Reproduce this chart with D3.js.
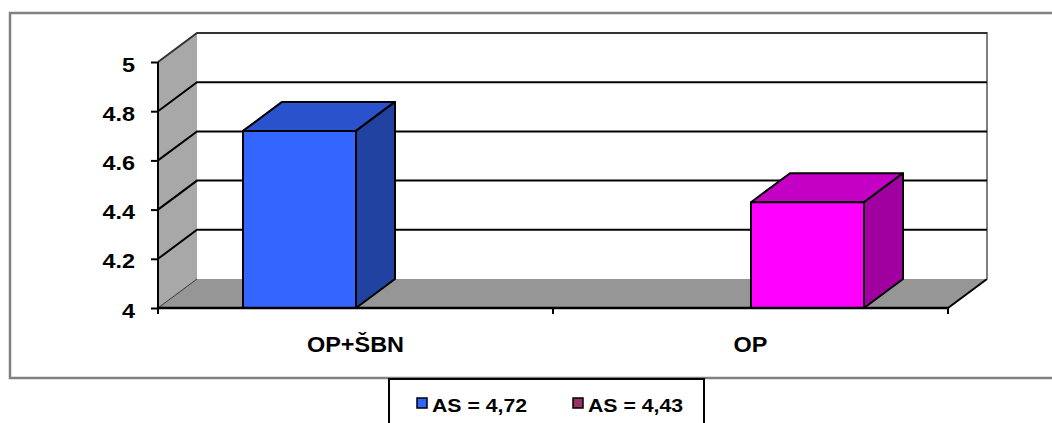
<!DOCTYPE html>
<html><head><meta charset="utf-8">
<script src="https://cdn.jsdelivr.net/npm/d3@7"></script>
<style>html,body{margin:0;padding:0;background:#fff}svg{display:block}text{font-family:"Liberation Sans",Arial,sans-serif;font-weight:bold;fill:#000}</style>
</head><body><svg id="c" width="1052" height="423"></svg>
<script>
const categories = ["OP+ŠBN", "OP"];
const seriesNames = ["AS = 4,72", "AS = 4,43"];
const seriesA = [4.72, null];
const seriesB = [null, 4.43];
const yTicks = [4, 4.2, 4.4, 4.6, 4.8, 5];
const yTickLabels = ["4", "4.2", "4.4", "4.6", "4.8", "5"];
const frontColors = ["#3366ff", "#ff00ff"];
const topColors = ["#2952cc", "#c400c4"];
const sideColors = ["#2142a0", "#a000a0"];
const legendColors = ["#3366ff", "#993366"];

const svg = d3.select("#c");
const DX = 39, DY = -29;
const x0 = d3.scaleBand().domain(categories).range([158, 948]);
const x1 = d3.scaleBand().domain(seriesNames).range([85, 311]);
const y = d3.scaleLinear().domain([4, 5]).range([308, 62]);
const series = [seriesA, seriesB];

// outer frame
svg.append("rect").attr("x", 10).attr("y", 13).attr("width", 1060).attr("height", 365)
  .attr("fill", "#fff").attr("stroke", "#808080").attr("stroke-width", 2.5);

const yb = y(4), yt = y(5);
// side wall
svg.append("path").attr("d", `M158,${yt}L${158+DX},${yt+DY}L${158+DX},${yb+DY}L158,${yb}Z`)
  .attr("fill", "#a8a8a8").attr("stroke", "none");
// back wall
svg.append("rect").attr("x", 158+DX).attr("y", yt+DY).attr("width", 987-158-DX).attr("height", yb-yt)
  .attr("fill", "#fff");
// floor
svg.append("path").attr("d", `M158,${yb}L${158+DX},${yb+DY}L${948+DX},${yb+DY}L948,${yb}Z`)
  .attr("fill", "#969696");
svg.append("line").attr("x1", 948).attr("y1", yb).attr("x2", 948+DX).attr("y2", yb+DY)
  .attr("stroke", "#000").attr("stroke-width", 2);
svg.append("line").attr("x1", 158).attr("y1", yb).attr("x2", 158+DX).attr("y2", yb+DY)
  .attr("stroke", "#333").attr("stroke-width", 1);
// back wall right edge
svg.append("line").attr("x1", 987).attr("y1", yt+DY-1).attr("x2", 987).attr("y2", yb+DY)
  .attr("stroke", "#808080").attr("stroke-width", 2);

// gridlines
yTicks.filter(v => v > 4).forEach(v => {
  const yy = y(v);
  svg.append("path").attr("d", `M158,${yy}L${158+DX},${yy+DY}L987,${yy+DY}`)
    .attr("fill", "none").attr("stroke", v === 5 ? "#333" : "#000").attr("stroke-width", 2);
});

// bars
series.forEach((vals, si) => {
  vals.forEach((v, ci) => {
    if (v == null) return;
    const xl = x0(categories[ci]) + x1(seriesNames[si]);
    const w = x1.bandwidth();
    const yv = y(v);
    const g = svg.append("g").attr("stroke", "#000").attr("stroke-width", 2).attr("stroke-linejoin", "round");
    g.append("path").attr("d", `M${xl},${yv}L${xl+DX},${yv+DY}L${xl+w+DX},${yv+DY}L${xl+w},${yv}Z`).attr("fill", topColors[si]);
    g.append("path").attr("d", `M${xl+w},${yv}L${xl+w+DX},${yv+DY}L${xl+w+DX},${yb+DY}L${xl+w},${yb}Z`).attr("fill", sideColors[si]);
    g.append("rect").attr("x", xl).attr("y", yv).attr("width", w).attr("height", yb - yv).attr("fill", frontColors[si]);
  });
});

// axes
const yAxis = d3.axisLeft(y).tickValues(yTicks).tickSize(7).tickFormat("");
const ya = svg.append("g").attr("transform", "translate(158,0)").call(yAxis);
ya.selectAll("line,path").attr("stroke", "#000").attr("stroke-width", 2);
ya.select(".domain").attr("d", `M0,${yt}V${yb}`);
yTicks.forEach((v, i) => {
  svg.append("g").attr("transform", `translate(135,${y(v) + 9.5})`)
    .append("text").attr("transform", "scale(1.17,1)").attr("text-anchor", "end")
    .style("font-size", "20px").text(yTickLabels[i]);
});
const xa = svg.append("g").attr("transform", `translate(0,${yb})`)
  .call(d3.axisBottom(x0).tickSize(0).tickFormat(""));
xa.select(".domain").attr("d", "M158,0H948").attr("stroke", "#000").attr("stroke-width", 2.5);
[158, 553, 948].forEach(xx => {
  svg.append("line").attr("x1", xx).attr("x2", xx).attr("y1", yb).attr("y2", yb + 6)
    .attr("stroke", "#000").attr("stroke-width", 2);
});
categories.forEach(c => {
  svg.append("g").attr("transform", `translate(${x0(c) + x0.bandwidth()/2},352)`)
    .append("text").attr("transform", "scale(1.09,1)").attr("text-anchor", "middle")
    .style("font-size", "21.5px").text(c);
});

// legend
svg.append("rect").attr("x", 389).attr("y", 379).attr("width", 315).attr("height", 60)
  .attr("fill", "#fff").attr("stroke", "#000").attr("stroke-width", 2);
const legX = [417, 573];
seriesNames.forEach((s, i) => {
  svg.append("rect").attr("x", legX[i]).attr("y", 398).attr("width", 10).attr("height", 10)
    .attr("fill", legendColors[i]).attr("stroke", "#000").attr("stroke-width", 1.5);
  svg.append("g").attr("transform", `translate(${legX[i] + 15},412)`)
    .append("text").attr("transform", "scale(1.15,1)")
    .style("font-size", "18.5px").text(s);
});
</script></body></html>
